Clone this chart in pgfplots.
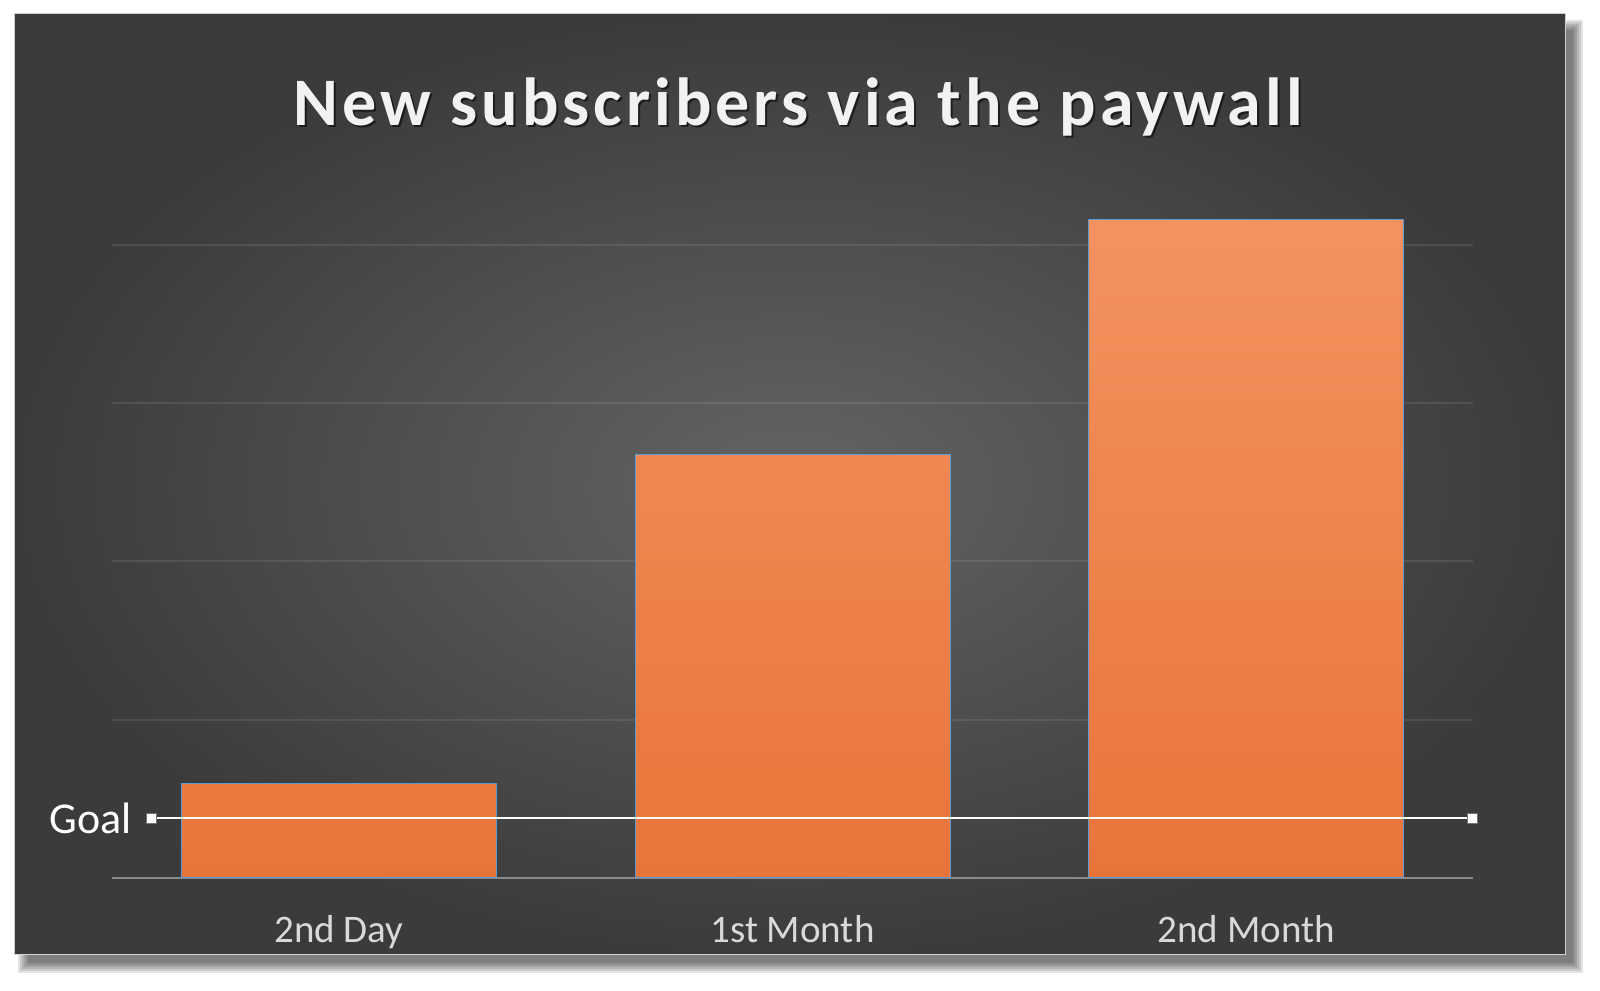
\documentclass[border=0pt]{standalone}
\usepackage{fontspec}
\setmainfont{Carlito}
\usepackage{pgfplots}
\pgfplotsset{compat=1.18}

\definecolor{bgIn}{HTML}{646464}
\definecolor{bgOut}{HTML}{3A3B3A}
\definecolor{barTop}{HTML}{F4925F}
\definecolor{barMid}{HTML}{F3813C}
\definecolor{barBot}{HTML}{E8743A}
\definecolor{barEdge}{HTML}{5B9BD5}
\definecolor{tickgray}{HTML}{D9D9D9}
\definecolor{basegray}{HTML}{8A8A8A}

\newcommand{\titlefont}{\fontsize{34}{40}\selectfont\bfseries\addfontfeature{LetterSpace=6}}

\begin{document}
\begin{tikzpicture}[x=0.5pt,y=0.5pt]
    \path[use as bounding box] (0,0) rectangle (1600,990);

    % soft drop shadow under the panel
    \foreach \e in {0,2,...,10} {
        \fill[black,opacity=0.11] (28-\e,27-\e) rectangle (1573+\e,960+\e);
    }

    % dark panel
    \shade[inner color=bgIn, outer color=bgOut] (14,35) rectangle (1565,976);
    \draw[gray!35, line width=0.5pt] (14,35) rectangle (1565,976);

    % title with a faint shadow
    \node[anchor=base, black, opacity=0.55, font=\titlefont]
        at (800,862) {New subscribers via the paywall};
    \node[anchor=base, text=white!95!black, font=\titlefont]
        at (798,864) {New subscribers via the paywall};

    \coordinate (axpos) at (112,112);

    \begin{axis}[
        at={(axpos)},
        anchor=south west,
        scale only axis,
        width=680.5pt,
        height=316.5pt,
        xmin=-0.5, xmax=2.5,
        ymin=0, ymax=4,
        clip=false,
        axis x line*=bottom,
        axis y line*=left,
        y axis line style={draw=none},
        x axis line style={draw=basegray, line width=1.2pt},
        xtick={0,1,2},
        xticklabels={2nd Day,1st Month,2nd Month},
        ytick={1,2,3,4},
        yticklabels={},
        major tick length=0pt,
        ymajorgrids,
        major grid style={white, opacity=0.09, line width=1pt},
        xticklabel style={anchor=base, yshift=-32.5pt, text=tickgray,
                          font=\fontsize{19.5}{23}\selectfont},
    ]
        \addplot[ybar, bar width=157.5pt, draw=barEdge, line width=0.5pt,
                 top color=barTop, middle color=barMid, bottom color=barBot]
            coordinates {(0,0.60) (1,2.673) (2,4.158)};

        \addplot[white, line width=1pt, mark=square*, mark size=2.5pt,
                 mark options={fill=white, draw=black!55, line width=0.3pt}]
            coordinates {(-0.414,0.379) (2.498,0.379)};

        \node[anchor=base east, inner sep=0pt, text=white,
              font=\fontsize{22}{26}\selectfont]
            at (axis cs:-0.456,0.284) {Goal};
    \end{axis}
\end{tikzpicture}
\end{document}
